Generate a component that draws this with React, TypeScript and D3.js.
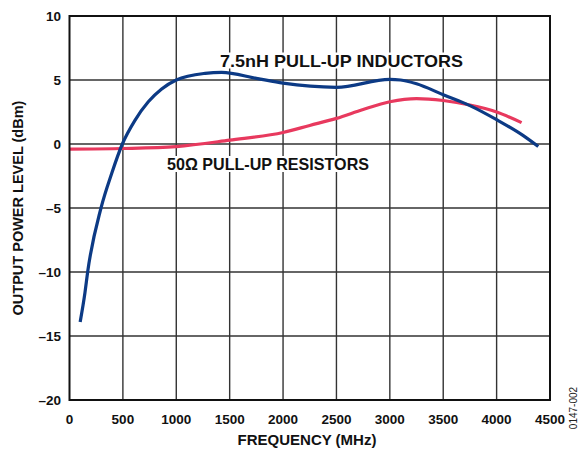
import { useEffect, useRef } from 'react';
import * as d3 from 'd3';

// frequency (MHz), output level (dBm)
const inductorFreq = [100, 145, 170, 295, 395, 495, 613, 738, 863, 1000, 1270, 1425, 1750, 2000, 2500, 3000, 3100, 3250, 3500, 3750, 4000, 4250, 4390];
const inductorLevel = [-13.9, -11.6, -10, -5, -2.3, 0, 1.85, 3.3, 4.3, 5.0, 5.52, 5.6, 5.13, 4.75, 4.43, 5.05, 5.0, 4.7, 3.85, 3.0, 1.9, 0.65, -0.2];

const resistorFreq = [0, 500, 1000, 1500, 2000, 2250, 2500, 2750, 3000, 3250, 3500, 3750, 4000, 4234];
const resistorLevel = [-0.4, -0.35, -0.2, 0.3, 0.9, 1.45, 2.0, 2.7, 3.3, 3.55, 3.4, 3.05, 2.5, 1.67];

const xTicks = [0, 500, 1000, 1500, 2000, 2500, 3000, 3500, 4000, 4500];
const yTicks = [10, 5, 0, -5, -10, -15, -20];
const yTickLabels = ['10', '5', '0', '–5', '–10', '–15', '–20'];

const BLUE = '#0C3A85';
const RED = '#E8395E';

export default function App() {
  const svgRef = useRef<SVGSVGElement>(null);

  useEffect(() => {
    if (!svgRef.current) return;
    const svg = d3.select(svgRef.current);
    svg.selectAll('*').remove();

    const W = 585, H = 450;
    const M = { left: 69.5, right: 35, top: 16, bottom: 50 };
    const x = d3.scaleLinear().domain([0, 4500]).range([M.left, W - M.right]);
    const y = d3.scaleLinear().domain([-20, 10]).range([H - M.bottom, M.top]);
    const font = '"Liberation Sans", Arial, sans-serif';

    // grid
    const grid = svg.append('g').attr('stroke', '#333').attr('stroke-width', 1.4);
    xTicks.slice(1, -1).forEach((t) => {
      grid.append('line').attr('x1', x(t)).attr('x2', x(t)).attr('y1', y(10)).attr('y2', y(-20));
    });
    yTicks.slice(1, -1).forEach((t) => {
      grid.append('line').attr('x1', x(0)).attr('x2', x(4500)).attr('y1', y(t)).attr('y2', y(t));
    });

    // labels with white backing (drawn before curves)
    const labels = [
      { text: '7.5nH PULL-UP INDUCTORS', x: 220, y: 66.5, w: 243 },
      { text: '50Ω PULL-UP RESISTORS', x: 167, y: 170, w: 202 },
    ];
    labels.forEach((l) => {
      const t = svg.append('text')
        .attr('x', l.x).attr('y', l.y)
        .attr('font-family', font).attr('font-weight', 'bold').attr('font-size', 16.5)
        .attr('textLength', l.w).attr('lengthAdjust', 'spacingAndGlyphs')
        .attr('fill', '#111').text(l.text);
      const bb = (t.node() as SVGTextElement).getBBox();
      svg.insert('rect', 'text')
        .attr('x', bb.x - 2).attr('y', bb.y + 1).attr('width', bb.width + 4).attr('height', bb.height - 2)
        .attr('fill', '#fff');
    });

    // curves
    const line = d3.line<[number, number]>()
      .x((d) => x(d[0])).y((d) => y(d[1]))
      .curve(d3.curveMonotoneX);
    svg.append('path')
      .datum(resistorFreq.map((f, i) => [f, resistorLevel[i]] as [number, number]))
      .attr('d', line).attr('fill', 'none').attr('stroke', RED).attr('stroke-width', 3.2);
    svg.append('path')
      .datum(inductorFreq.map((f, i) => [f, inductorLevel[i]] as [number, number]))
      .attr('d', line).attr('fill', 'none').attr('stroke', BLUE).attr('stroke-width', 3.2);

    // border
    svg.append('rect')
      .attr('x', x(0)).attr('y', y(10)).attr('width', x(4500) - x(0)).attr('height', y(-20) - y(10))
      .attr('fill', 'none').attr('stroke', '#111').attr('stroke-width', 2);

    // tick labels
    const tl = svg.append('g').attr('font-family', font).attr('font-weight', 'bold')
      .attr('font-size', 13.5).attr('fill', '#111');
    yTicks.forEach((t, i) => {
      tl.append('text').attr('x', 61).attr('y', y(t) + 5)
        .attr('text-anchor', 'end').text(yTickLabels[i]);
    });
    xTicks.forEach((t) => {
      tl.append('text').attr('x', x(t)).attr('y', 424)
        .attr('text-anchor', 'middle').text(String(t));
    });

    // axis titles
    svg.append('text')
      .attr('x', 307).attr('y', 445)
      .attr('text-anchor', 'middle')
      .attr('font-family', font).attr('font-weight', 'bold').attr('font-size', 15)
      .attr('fill', '#111').text('FREQUENCY (MHz)');
    svg.append('text')
      .attr('transform', `translate(23,${y(-5)}) rotate(-90)`)
      .attr('text-anchor', 'middle')
      .attr('font-family', font).attr('font-weight', 'bold').attr('font-size', 14.5)
      .attr('fill', '#111').text('OUTPUT POWER LEVEL (dBm)');
    svg.append('text')
      .attr('transform', `translate(577,408) rotate(-90)`)
      .attr('text-anchor', 'middle')
      .attr('font-family', font).attr('font-size', 10)
      .attr('fill', '#222').text('0147-002');
  }, []);

  return (
    <svg
      ref={svgRef}
      width={585}
      height={450}
      viewBox="0 0 585 450"
      style={{ position: 'absolute', left: 0, top: 0, background: '#fff' }}
    />
  );
}
